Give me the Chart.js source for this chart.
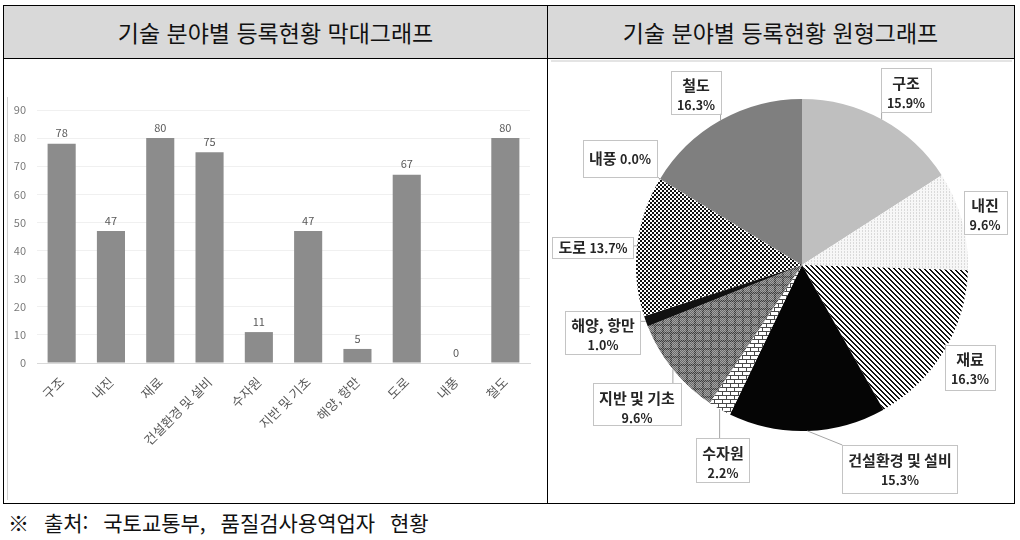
<!DOCTYPE html>
<html lang="ko">
<head>
<meta charset="utf-8">
<script src="https://cdn.jsdelivr.net/npm/chart.js@4.4.1/dist/chart.umd.min.js"></script>
<style>
    body { margin: 0; width: 1020px; height: 540px; background: #fff; position: relative; overflow: hidden;
        font-family: "Noto Sans CJK KR", "Noto Sans", sans-serif; }
    .frame { position: absolute; left: 3px; top: 5px; width: 1010px; height: 497px; border: 1.5px solid #000; }
    .head { position: absolute; top: 0; height: 52px; background: #d9d9d9; border-bottom: 1.5px solid #000;
        font-size: 23px; color: #111; line-height: 52px; text-align: center; }
    .divider { position: absolute; left: 543px; top: 0; bottom: 0; border-left: 1.5px solid #000; }
    #bar-wrap { position: absolute; left: 8px; top: 60px; width: 532px; height: 440px; }
    #bar-edge { position: absolute; left: 7px; top: 97px; height: 403px; border-left: 1px solid #d0d0d0; }
    #pie-wrap { position: absolute; left: 550px; top: 60px; width: 462px; height: 440px; }
    #pie-edge { position: absolute; left: 551px; top: 60px; width: 461px; border-top: 2px solid #e4e4e4; }
    .note { position: absolute; left: 8px; top: 507px; font-size: 21px; color: #111; word-spacing: 9px; }
</style>
</head>
<body>
<div class="frame">
    <div class="head" style="left:0;width:543px;">기술 분야별 등록현황 막대그래프</div>
    <div class="head" style="left:543px;width:467px;">기술 분야별 등록현황 원형그래프</div>
    <div class="divider"></div>
</div>
<div id="bar-edge"></div>
<div id="bar-wrap"><canvas id="bar-chart" width="532" height="440"></canvas></div>
<div id="pie-edge"></div>
<div id="pie-wrap"><canvas id="pie-chart" width="462" height="440"></canvas></div>
<div class="note">※ 출처: 국토교통부, 품질검사용역업자 현황</div>

<script>
const categories = ['구조', '내진', '재료', '건설환경 및 설비', '수자원', '지반 및 기초', '해양, 항만', '도로', '내풍', '철도'];
const counts = [78, 47, 80, 75, 11, 47, 5, 67, 0, 80];
const yMin = 0;
const yMax = 90;
const yStep = 10;

const FONT = '"Noto Sans CJK KR", "Noto Sans", sans-serif';

// small canvas tiles used as slice fills
function makePattern(size, paint) {
    const c = document.createElement('canvas');
    c.width = size;
    c.height = size;
    const ctx = c.getContext('2d');
    for (let y = 0; y < size; y++) {
        for (let x = 0; x < size; x++) {
            ctx.fillStyle = paint(x, y);
            ctx.fillRect(x, y, 1, 1);
        }
    }
    return ctx.createPattern(c, 'repeat');
}

const pieFills = [
    '#bfbfbf',
    makePattern(3, (x, y) => (x === 0 && y !== 1) ? '#dadada' : '#f7f7f7'),
    makePattern(5, (x, y) => ((x - y + 5) % 5) < 2 ? '#111' : '#fff'),
    '#050505',
    makePattern(8, (x, y) => {
        if (y % 4 === 3) return '#4a4a4a';
        if (y < 4 && x === 0) return '#4a4a4a';
        if (y >= 4 && x === 4) return '#4a4a4a';
        return '#fff';
    }),
    makePattern(8, (x, y) => {
        if (x < 2 || y < 2) return (x + y) % 2 ? '#3e3e3e' : '#8e8e8e';
        return (x + y) % 2 ? '#6a6a6a' : '#a4a4a4';
    }),
    '#111111',
    makePattern(4, (x, y) => ((x < 2) !== (y < 2)) ? '#111' : '#fff'),
    '#cccccc',
    '#7f7f7f'
];

// value labels above the bars
const barValuePlugin = {
    id: 'barValues',
    afterDatasetsDraw(chart) {
        const ctx = chart.ctx;
        const meta = chart.getDatasetMeta(0);
        ctx.save();
        ctx.font = '11px ' + FONT;
        ctx.fillStyle = '#595959';
        ctx.textAlign = 'center';
        ctx.textBaseline = 'bottom';
        meta.data.forEach((bar, i) => {
            ctx.fillText(String(counts[i]), bar.x, bar.y - 5);
        });
        ctx.restore();
    }
};

new Chart(document.getElementById('bar-chart'), {
    type: 'bar',
    data: {
        labels: categories,
        datasets: [{
            data: counts,
            backgroundColor: '#8c8c8c',
            barPercentage: 0.57,
            categoryPercentage: 1.0
        }]
    },
    options: {
        responsive: false,
        animation: false,
        layout: { padding: { left: 0, right: 10, top: 50, bottom: 0 } },
        plugins: { legend: { display: false }, tooltip: { enabled: false } },
        scales: {
            x: {
                grid: { display: false },
                border: { color: '#d9d9d9' },
                ticks: {
                    color: '#595959',
                    font: { family: FONT, size: 13 },
                    minRotation: 45,
                    maxRotation: 45,
                    autoSkip: false,
                    padding: 3
                },
                afterFit(scale) { scale.height = 137; }
            },
            y: {
                min: yMin,
                max: yMax,
                grid: { color: '#f0f0f0', drawTicks: false },
                border: { display: false },
                ticks: {
                    stepSize: yStep,
                    color: '#7a7a7a',
                    font: { family: FONT, size: 11 },
                    padding: 11
                },
                afterFit(scale) { scale.width = 29; }
            }
        }
    },
    plugins: [barValuePlugin]
});

// label boxes: offset of box centre from pie centre, box height, single line
const pieLabelLayout = [
    [104, -175, 44, false],
    [183, -53, 43, false],
    [168, 102, 45, false],
    [98, 204, 48, false],
    [-79, 195, 44, false],
    [-165, 139, 42, false],
    [-199, 67, 43, false],
    [-209, -18, 21, true],
    [-182, -107, 37, true],
    [-106, -173, 43, false]
];

const pieLabelPlugin = {
    id: 'pieLabels',
    afterDraw(chart) {
        const ctx = chart.ctx;
        const meta = chart.getDatasetMeta(0);
        const total = counts.reduce((a, b) => a + b, 0);
        ctx.save();
        meta.data.forEach((arc, i) => {
            const cx = arc.x, cy = arc.y, r = arc.outerRadius;
            const mid = (arc.startAngle + arc.endAngle) / 2;
            const px = cx + Math.cos(mid) * r;
            const py = cy + Math.sin(mid) * r;
            const [dx, dy, h, oneLine] = pieLabelLayout[i];
            const pct = (counts[i] / total * 100).toFixed(1) + '%';
            const nameFont = 'bold 15px ' + FONT;
            const pctFont = 'bold 12.5px ' + FONT;
            let w;
            if (oneLine) {
                ctx.font = nameFont;
                const w1 = ctx.measureText(categories[i] + ' ').width;
                ctx.font = pctFont;
                w = w1 + ctx.measureText(pct).width + 12;
            } else {
                ctx.font = nameFont;
                const w1 = ctx.measureText(categories[i]).width;
                ctx.font = pctFont;
                w = Math.max(w1, ctx.measureText(pct).width) + 12;
            }
            const bx = cx + dx - w / 2;
            const by = cy + dy - h / 2;

            // leader line
            const qx = Math.min(Math.max(px, bx), bx + w);
            const qy = Math.min(Math.max(py, by), by + h);
            if (Math.hypot(px - qx, py - qy) > 3) {
                ctx.strokeStyle = '#a6a6a6';
                ctx.lineWidth = 1;
                ctx.beginPath();
                ctx.moveTo(px, py);
                ctx.lineTo(qx, qy);
                ctx.stroke();
            }

            ctx.fillStyle = '#fff';
            ctx.fillRect(bx, by, w, h);
            ctx.strokeStyle = '#c4c4c4';
            ctx.lineWidth = 1;
            ctx.strokeRect(Math.round(bx) + 0.5, Math.round(by) + 0.5, Math.round(w), Math.round(h));

            ctx.fillStyle = '#262626';
            ctx.textBaseline = 'middle';
            if (oneLine) {
                ctx.textAlign = 'left';
                ctx.font = nameFont;
                const nameText = categories[i] + ' ';
                const nw = ctx.measureText(nameText).width;
                ctx.fillText(nameText, bx + 6, by + h / 2);
                ctx.font = pctFont;
                ctx.fillText(pct, bx + 6 + nw, by + h / 2 + 1);
            } else {
                ctx.textAlign = 'center';
                ctx.font = nameFont;
                ctx.fillText(categories[i], bx + w / 2, by + 15);
                ctx.font = pctFont;
                ctx.fillText(pct, bx + w / 2, by + 35);
            }
        });
        ctx.restore();
    }
};

new Chart(document.getElementById('pie-chart'), {
    type: 'pie',
    data: {
        labels: categories,
        datasets: [{
            data: counts,
            backgroundColor: pieFills,
            borderWidth: 0
        }]
    },
    options: {
        responsive: false,
        animation: false,
        layout: { padding: { left: 86, right: 44, top: 39, bottom: 69 } },
        plugins: { legend: { display: false }, tooltip: { enabled: false } }
    },
    plugins: [pieLabelPlugin]
});
</script>
</body>
</html>
